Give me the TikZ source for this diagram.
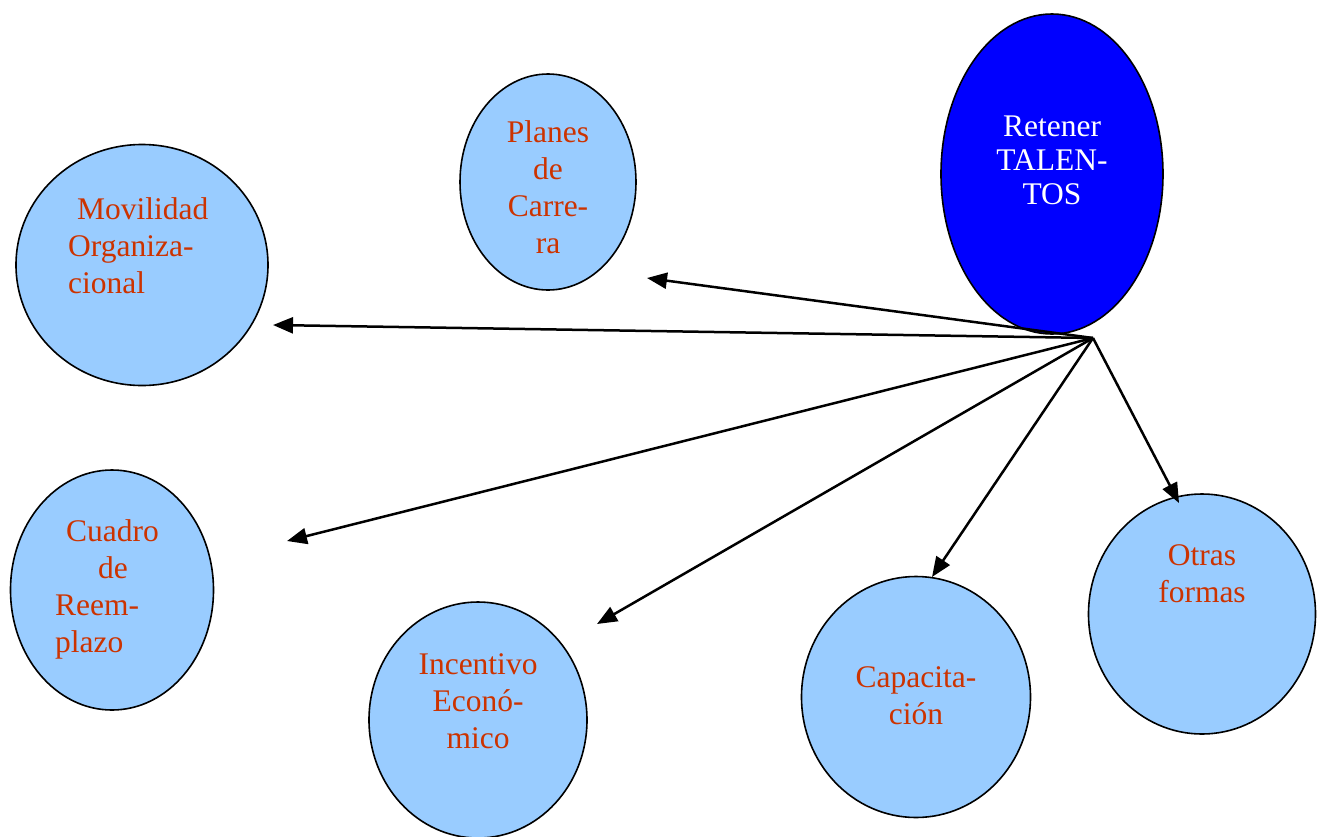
\documentclass[tikz,border=0pt]{standalone}
\usepackage{fontspec}
\setmainfont{Liberation Serif}
\usetikzlibrary{arrows.meta,shapes.geometric}
\definecolor{lblue}{HTML}{99CCFF}
\definecolor{dblue}{HTML}{0000FF}
\definecolor{txtred}{HTML}{CC3300}
\tikzset{
  bubble/.style={ellipse, draw=black, line width=1.6pt, fill=lblue, inner sep=0pt},
  lbl/.style={inner sep=0pt, text=txtred, font=\fontsize{31.5}{37}\selectfont},
  conn/.style={line width=2.5pt, -{Triangle[length=20pt,width=16pt]}},
}
\begin{document}
\begin{tikzpicture}[x=1pt,y=-1pt]
\useasboundingbox (0,0) rectangle (1323,836);
% ellipses
\node[bubble, fill=dblue, minimum width=222pt, minimum height=320pt] (ret) at (1052,174) {};
\node[bubble, minimum width=176pt, minimum height=216pt] (plan) at (548,182) {};
\node[bubble, minimum width=252pt, minimum height=241pt] (mov) at (142,265) {};
\node[bubble, minimum width=203pt, minimum height=240pt] (cua) at (112,590) {};
\node[bubble, minimum width=218pt, minimum height=236pt] (inc) at (478,720) {};
\node[bubble, minimum width=229pt, minimum height=241pt] (cap) at (916,697) {};
\node[bubble, minimum width=227pt, minimum height=240pt] (otr) at (1202,614) {};
% texts
\node[lbl, text=white, align=center, font=\fontsize{31.5}{34}\selectfont] (tret) at (1052,160) {Retener\\TALEN-\\TOS};
\node[lbl, align=center] (tplan) at (548,187) {Planes\\de\\Carre-\\ra};
\node[lbl, align=left, anchor=west] (tmov) at (68,246) {\hspace{9pt}Movilidad\\Organiza-\\cional};
\node[lbl, align=left, anchor=west] (tcua) at (55,589) {\hspace{11pt}Cuadro\\\hspace{43pt}de\\Reem-\\plazo};
\node[lbl, align=center] (tinc) at (478,701) {Incentivo\\Econó-\\mico};
\node[lbl, align=center] (tcap) at (916,696) {Capacita-\\ción};
\node[lbl, align=center] (totr) at (1202,574) {Otras\\formas};
% connectors
\coordinate (hub) at (1093,338);
\coordinate (eplan) at (647,278);
\coordinate (emov) at (273,325);
\coordinate (ecua) at (287,541);
\coordinate (einc) at (597,624);
\coordinate (ecap) at (932,577);
\coordinate (eotr) at (1179,503);
\draw[conn] (hub) -- (eplan);
\draw[conn] (hub) -- (emov);
\draw[conn] (hub) -- (ecua);
\draw[conn] (hub) -- (einc);
\draw[conn] (hub) -- (ecap);
\draw[conn] (hub) -- (eotr);
\end{tikzpicture}
\end{document}
